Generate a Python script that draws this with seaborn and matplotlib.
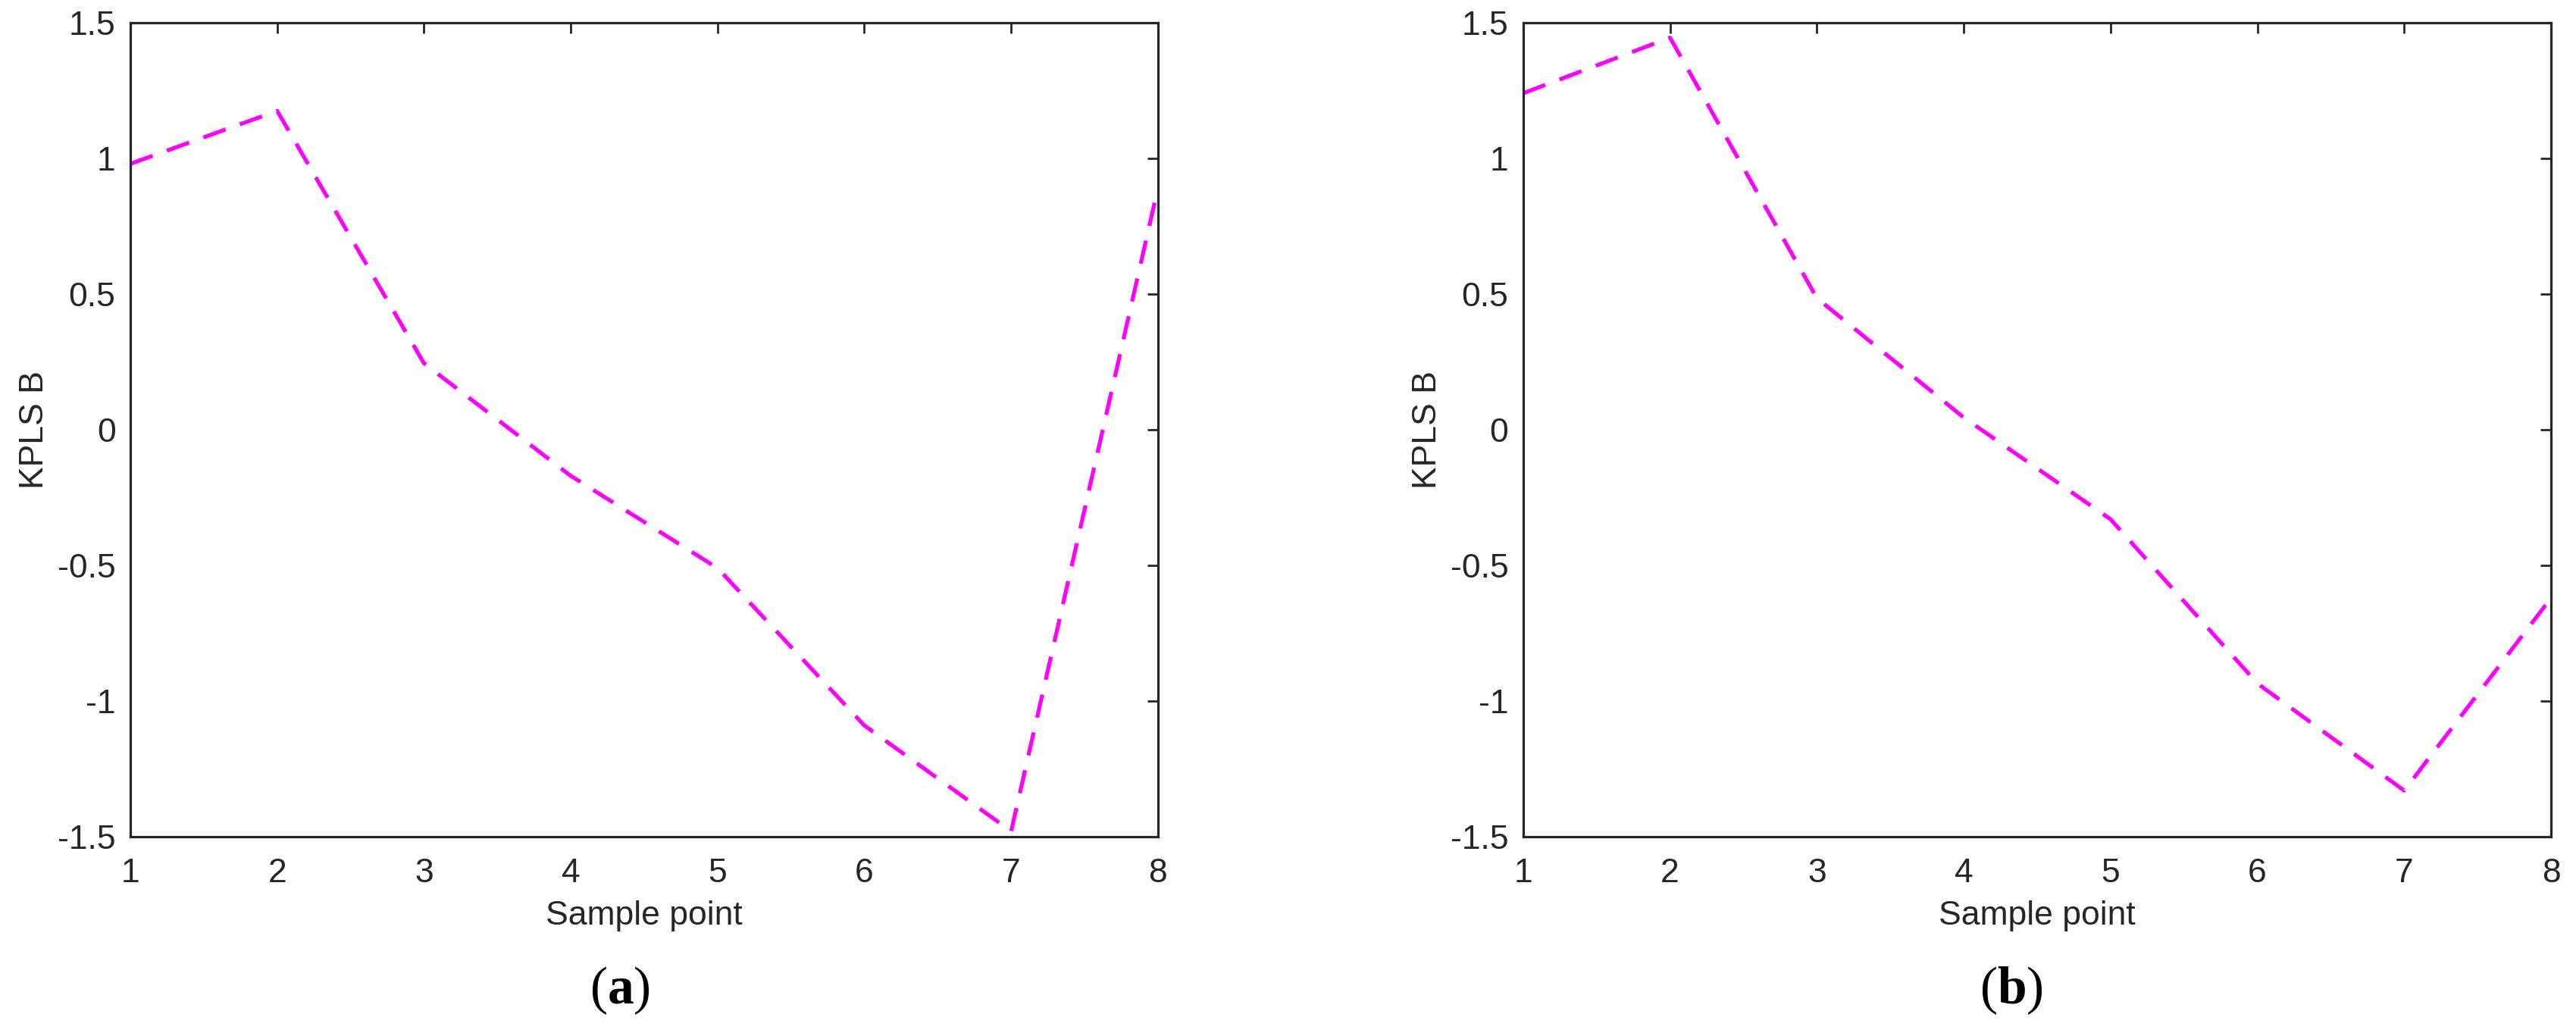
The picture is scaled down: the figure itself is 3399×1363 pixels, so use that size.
import pandas as pd
import matplotlib
matplotlib.use("Agg")
import matplotlib.pyplot as plt
import matplotlib.ticker as mticker
import seaborn as sns

# Data
sample_points = [1, 2, 3, 4, 5, 6, 7, 8]
kpls_b_a = [0.98, 1.175, 0.245, -0.17, -0.51, -1.09, -1.48, 0.89]
kpls_b_b = [1.24, 1.445, 0.485, 0.045, -0.33, -0.935, -1.33, -0.62]
panel_labels = ["a", "b"]

df_a = pd.DataFrame({"Sample point": sample_points, "KPLS B": kpls_b_a})
df_b = pd.DataFrame({"Sample point": sample_points, "KPLS B": kpls_b_b})

sns.set_theme(style="white")
plt.rcParams["font.family"] = ["Liberation Sans", "DejaVu Sans"]
plt.rcParams["axes.unicode_minus"] = False
plt.rcParams["mathtext.fontset"] = "custom"
plt.rcParams["mathtext.rm"] = "Liberation Serif"
plt.rcParams["mathtext.bf"] = "Liberation Serif:bold"

ink = "#262626"
fig = plt.figure(figsize=(33.99, 13.63), dpi=100)
ax_a = fig.add_axes([0.0506, 0.19, 0.3989, 0.788])
ax_b = fig.add_axes([0.5913, 0.19, 0.3990, 0.788])

for ax, df, lab, lx in [(ax_a, df_a, panel_labels[0], 0.2407),
                        (ax_b, df_b, panel_labels[1], 0.7808)]:
    sns.lineplot(data=df, x="Sample point", y="KPLS B", ax=ax,
                 color="#FF00FF", linewidth=3.8, dashes=False)
    ax.lines[0].set_dashes((5.9, 3.8))
    ax.set_xlim(1, 8)
    ax.set_ylim(-1.5, 1.5)
    ax.set_xticks(sample_points)
    ax.set_yticks([-1.5, -1, -0.5, 0, 0.5, 1, 1.5])
    ax.yaxis.set_major_formatter(mticker.FormatStrFormatter("%g"))
    for s in ax.spines.values():
        s.set_visible(True)
        s.set_color(ink)
        s.set_linewidth(2.3)
    ax.tick_params(axis="both", direction="in", length=10, width=2,
                   colors=ink, labelsize=32, top=True, right=True)
    ax.tick_params(axis="x", pad=20)
    ax.tick_params(axis="y", pad=14)
    ax.set_xlabel("Sample point", fontsize=32, color=ink)
    ax.set_ylabel("KPLS B", fontsize=32, color=ink)
    ax.xaxis.set_label_coords(0.5, -0.078)
    ax.yaxis.set_label_coords(-0.078, 0.5)
    fig.text(lx, 0.041, r"$(\mathbf{" + lab + r"})$", fontsize=50,
             ha="center", va="center", color="black")

fig.savefig("out.png", dpi=100)
